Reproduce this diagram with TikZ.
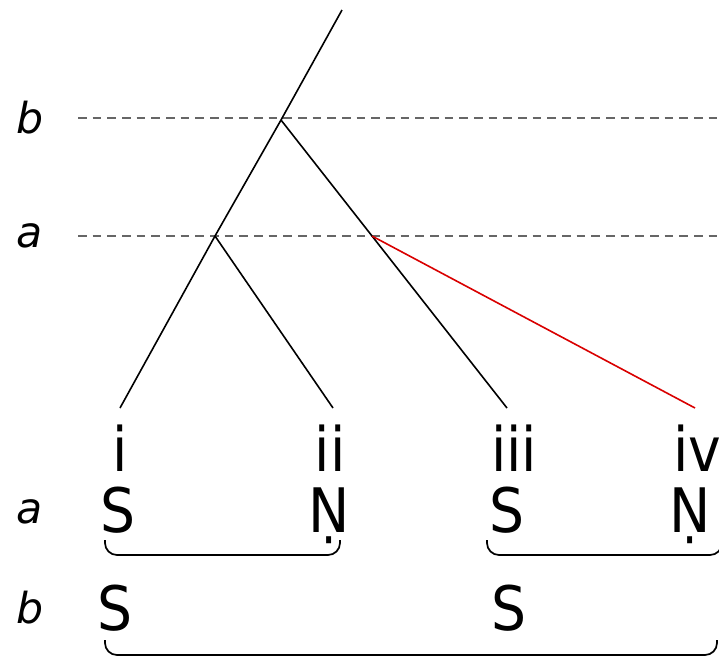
\documentclass[tikz,border=0pt]{standalone}
\usepackage{fontspec}
\setmainfont{DejaVu Sans}
\newfontfamily\condfont{DejaVu Sans Condensed}
\usetikzlibrary{calc,positioning}

\begin{document}
\begin{tikzpicture}[x=0.75pt, y=-0.75pt,
  branch/.style={line width=1.2pt},
  lvl/.style={gray!80!black, line width=1pt, dash pattern=on 6.5pt off 4.5pt},
  lbl/.style={font=\fontsize{32}{36}\selectfont\itshape, inner sep=0pt, anchor=base},
  seg/.style={font=\condfont\fontsize{46}{50}\selectfont, inner sep=0pt, anchor=base},
  brk/.style={line width=1.3pt, rounded corners=9pt}]
\useasboundingbox (0,0) rectangle (719,658);
% levels
\coordinate (bl) at (78,118);  \coordinate (br) at (719,118);
\coordinate (al) at (78,236);  \coordinate (ar) at (719,236);
\draw[lvl] (bl) -- (br);
\draw[lvl] (al) -- (ar);
\node[lbl] (lb) at (30,133) {b};
\node[lbl] (la) at (30,247) {a};
% tree
\coordinate (top) at (342,10);
\coordinate (nb) at (281,120);
\coordinate (na) at (215,236);
\coordinate (l1) at (120,408);
\coordinate (l2) at (333,408);
\coordinate (l3) at (507,408);
\coordinate (l4) at (695,408);
\coordinate (nr) at ($(nb)!0.403!(l3)$);
\draw[branch] (top) -- (nb) -- (na) -- (l1);
\draw[branch] (na) -- (l2);
\draw[branch] (nb) -- (l3);
\draw[branch, red!85!black] (nr) -- (l4);
% leaves
\node[seg] (i) at (120,471) {i};
\node[seg] (ii) at (330,471) {ii};
\node[seg] (iii) at (514,471) {iii};
\node[seg] (iv) at (697,471) {iv};
\node[lbl] (ra) at (30,523) {a};
\node[seg] (sa1) at (118,532) {S};
\node[seg] (na1) at (329,532) {Ṇ};
\node[seg] (sa2) at (507,532) {S};
\node[seg] (na2) at (690,532) {Ṇ};
\draw[brk] (105,540) -- (105,555) -- (340,555) -- (340,540);
\draw[brk] (487,540) -- (487,555) -- (722,555) -- (722,540);
\node[lbl] (rb) at (30,623) {b};
\node[seg] (sb1) at (115,630) {S};
\node[seg] (sb2) at (509,630) {S};
\draw[brk] (105,640) -- (105,655) -- (717,655) -- (717,640);
\end{tikzpicture}
\end{document}
